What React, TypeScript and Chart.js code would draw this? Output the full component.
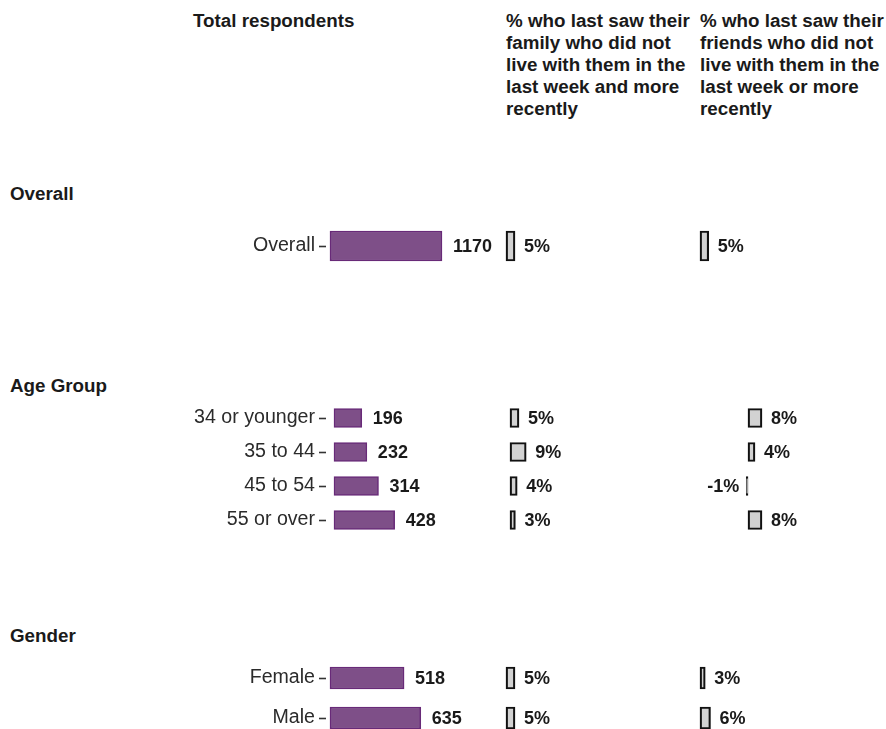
import React, { useEffect, useRef } from 'react';
import { Chart, registerables } from 'chart.js';

Chart.register(...registerables);

// ---------- data ----------
const overallCategories = ['Overall'];
const overallTotal = [1170];
const overallFamily = [5];
const overallFriends = [5];

const ageCategories = ['34 or younger', '35 to 44', '45 to 54', '55 or over'];
const ageTotal = [196, 232, 314, 428];
const ageFamily = [5, 9, 4, 3];
const ageFriends = [8, 4, -1, 8];

const genderCategories = ['Female', 'Male'];
const genderTotal = [518, 635];
const genderFamily = [5, 5];
const genderFriends = [3, 6];

const facetTitles = ['Overall', 'Age Group', 'Gender'];
const columnTitle1 = ['Total respondents'];
const columnTitle2 = ['% who last saw their', 'family who did not', 'live with them in the', 'last week and more', 'recently'];
const columnTitle3 = ['% who last saw their', 'friends who did not', 'live with them in the', 'last week or more', 'recently'];

// ---------- styling / layout ----------
const FONT = '"Liberation Sans", Arial, Helvetica, sans-serif';
const PURPLE = '#7e4f88';
const PURPLE_BORDER = '#682a78';
const GRAY = '#d2d2d2';
const GRAY_BORDER = '#111111';
const PAD = 20;

const facetLayout = [
  { titleY: 194, firstCenter: 246, spacing: 40, thickness: 30, zeros: [330, 506, 700], k0: 0.0957 },
  { titleY: 386, firstCenter: 418, spacing: 34, thickness: 19, zeros: [334, 510, 748], k0: 0.1417 },
  { titleY: 636, firstCenter: 678, spacing: 40, thickness: 22, zeros: [330, 506, 700], k0: 0.143 },
];

const columnLayout = [
  { left: 0, width: 500, axisWidth: 326 },
  { left: 500, width: 190, axisWidth: 0 },
  { left: 690, width: 196, axisWidth: 0 },
];
const pctScale = [0, 1.8, 1.75];

const valueLabelPlugin = {
  id: 'valueLabels',
  afterDatasetsDraw(chart: any, _args: any, opts: any) {
    const ctx = chart.ctx;
    const ds = chart.data.datasets[0];
    const meta = chart.getDatasetMeta(0);
    ctx.save();
    ctx.font = `bold 18px ${FONT}`;
    ctx.fillStyle = '#1a1a1a';
    ctx.textBaseline = 'middle';
    meta.data.forEach((bar: any, i: number) => {
      const v = ds.data[i] as number;
      const txt = `${v}${opts.suffix || ''}`;
      const p = bar.getProps(['x', 'y', 'base'], true);
      if (v >= 0) {
        ctx.textAlign = 'left';
        ctx.fillText(txt, Math.max(p.x, p.base) + opts.gap, p.y + 1);
      } else {
        ctx.textAlign = 'right';
        ctx.fillText(txt, Math.min(p.x, p.base) - 7, p.y + 1);
      }
    });
    ctx.restore();
  },
};

type PanelProps = {
  left: number;
  top: number;
  width: number;
  height: number;
  labels: string[];
  values: number[];
  zeroLocal: number;
  k: number;
  axisWidth: number;
  purple: boolean;
  thickness: number;
};

function Panel(props: PanelProps) {
  const ref = useRef<HTMLCanvasElement>(null);
  useEffect(() => {
    if (!ref.current) return;
    const { width, labels, values, zeroLocal, k, axisWidth, purple, thickness } = props;
    const areaLeft = axisWidth;
    const min = -(zeroLocal - areaLeft) / k;
    const max = (width - zeroLocal) / k;
    const chart = new Chart(ref.current, {
      type: 'bar',
      data: {
        labels,
        datasets: [
          {
            data: values,
            backgroundColor: purple ? PURPLE : GRAY,
            borderColor: purple ? PURPLE_BORDER : GRAY_BORDER,
            borderWidth: purple ? 1.5 : 2.2,
            borderSkipped: false,
            barThickness: thickness,
          } as any,
        ],
      },
      options: {
        indexAxis: 'y',
        responsive: false,
        maintainAspectRatio: false,
        animation: false,
        layout: { padding: { top: PAD, bottom: PAD, left: 0, right: 0 } },
        plugins: {
          legend: { display: false },
          tooltip: { enabled: false },
          valueLabels: { suffix: purple ? '' : '%', gap: purple ? 11 : 9 },
        } as any,
        scales: {
          x: { type: 'linear', display: false, min, max },
          y: {
            type: 'category',
            display: axisWidth > 0,
            offset: true,
            border: { display: false },
            grid: {
              display: true,
              offset: false,
              drawOnChartArea: false,
              drawTicks: true,
              tickLength: 7,
              tickColor: '#333333',
              tickWidth: 1.6,
            } as any,
            ticks: {
              font: { family: FONT, size: 19.6 },
              color: '#2b2b2b',
              padding: 4,
            },
            afterFit: (s: any) => {
              if (axisWidth > 0) s.width = axisWidth;
            },
          },
        },
      },
      plugins: [valueLabelPlugin as any],
    });
    return () => chart.destroy();
  }, []);
  return (
    <canvas
      ref={ref}
      width={props.width}
      height={props.height}
      style={{ position: 'absolute', left: props.left, top: props.top, width: props.width, height: props.height }}
    />
  );
}

const headerStyle: React.CSSProperties = {
  position: 'absolute',
  fontFamily: FONT,
  fontWeight: 'bold',
  fontSize: 18.8,
  lineHeight: '22px',
  color: '#1a1a1a',
  whiteSpace: 'nowrap',
};

export default function App() {
  const facetData = [
    { labels: overallCategories, cols: [overallTotal, overallFamily, overallFriends] },
    { labels: ageCategories, cols: [ageTotal, ageFamily, ageFriends] },
    { labels: genderCategories, cols: [genderTotal, genderFamily, genderFriends] },
  ];
  const panels: React.ReactNode[] = [];
  facetData.forEach((fd, fi) => {
    const fl = facetLayout[fi];
    const top = fl.firstCenter - fl.spacing / 2 - PAD;
    columnLayout.forEach((cl, ci) => {
      panels.push(
        <Panel
          key={`${fi}-${ci}`}
          left={cl.left}
          top={top}
          width={cl.width}
          height={fd.labels.length * fl.spacing + 2 * PAD}
          labels={fd.labels}
          values={fd.cols[ci]}
          zeroLocal={fl.zeros[ci] - cl.left}
          k={ci === 0 ? fl.k0 : pctScale[ci]}
          axisWidth={cl.axisWidth}
          purple={ci === 0}
          thickness={fl.thickness}
        />
      );
    });
  });
  return (
    <div style={{ position: 'absolute', left: 0, top: 0, width: 886, height: 729, overflow: 'hidden', background: '#ffffff' }}>
      <div style={{ ...headerStyle, left: 193, top: 10 }}>
        {columnTitle1.map((l, i) => (<div key={i}>{l}</div>))}
      </div>
      <div style={{ ...headerStyle, left: 506, top: 10 }}>
        {columnTitle2.map((l, i) => (<div key={i}>{l}</div>))}
      </div>
      <div style={{ ...headerStyle, left: 700, top: 10 }}>
        {columnTitle3.map((l, i) => (<div key={i}>{l}</div>))}
      </div>
      {facetTitles.map((t, i) => (
        <div key={t} style={{ ...headerStyle, left: 10, top: facetLayout[i].titleY - 11 }}>{t}</div>
      ))}
      {panels}
    </div>
  );
}
